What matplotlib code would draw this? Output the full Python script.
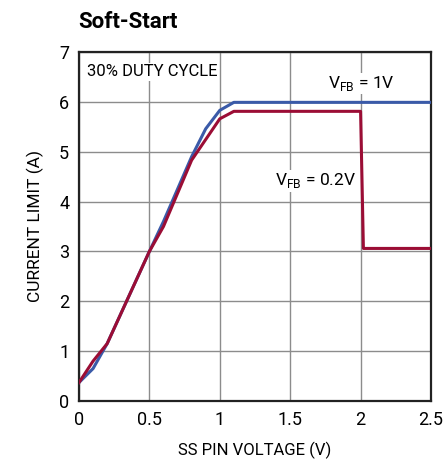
import matplotlib.pyplot as plt

# data
blue_x = [0, 0.1, 0.2, 0.5, 0.6, 0.8, 0.9, 1.0, 1.1, 2.5]
blue_y = [0.37, 0.65, 1.15, 3.0, 3.6, 4.9, 5.46, 5.83, 5.99, 5.99]
red_x = [0, 0.1, 0.2, 0.5, 0.6, 0.8, 1.0, 1.1, 2.0, 2.02, 2.5]
red_y = [0.37, 0.8, 1.15, 3.0, 3.5, 4.83, 5.66, 5.81, 5.81, 3.06, 3.06]

plt.rcParams['font.family'] = ['Roboto', 'DejaVu Sans']

fig = plt.figure(figsize=(4.45, 4.59), dpi=100)
ax = fig.add_axes([0.1775, 0.1264, 0.791, 0.7603])

ax.plot(blue_x, blue_y, color="#3a5aa8", lw=2.2, zorder=3)
ax.plot(red_x, red_y, color="#9b0d35", lw=2.2, zorder=4)

ax.set_xlim(0, 2.5)
ax.set_ylim(0, 7)
ax.set_xticks([0, 0.5, 1, 1.5, 2, 2.5])
ax.set_xticklabels(["0", "0.5", "1", "1.5", "2", "2.5"])
ax.set_yticks(range(8))
ax.grid(True, color="#8c8c8c", lw=1)
ax.tick_params(length=0, labelsize=13, pad=7)
for s in ax.spines.values():
    s.set_linewidth(1.6)
    s.set_color("#222222")

ax.set_xlabel("SS PIN VOLTAGE (V)", fontsize=12, labelpad=9.5)
ax.set_ylabel("CURRENT LIMIT (A)", fontsize=12.5, labelpad=11)

box = dict(facecolor="white", edgecolor="none", pad=1)
ax.text(0.06, 6.6, "30% DUTY CYCLE", fontsize=12, va="center", bbox=box)
ax.text(1.77, 6.37, "V$_{\\mathregular{FB}}$ = 1V", fontsize=12.5, va="center", bbox=box)
ax.text(1.39, 4.42, "V$_{\\mathregular{FB}}$ = 0.2V", fontsize=12.5, va="center", bbox=box)

fig.text(0.175, 0.952, "Soft-Start", fontsize=16, fontweight="bold", va="center")

fig.savefig("out.png", dpi=100)
